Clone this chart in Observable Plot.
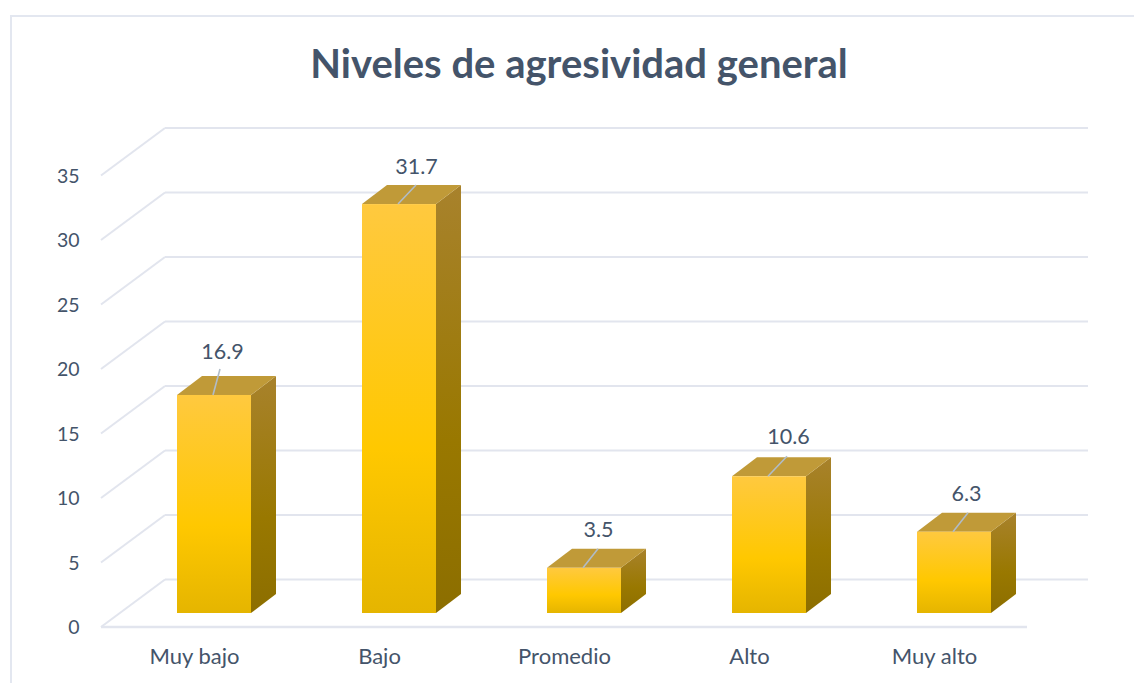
<!DOCTYPE html>
<html>
<head>
<meta charset="utf-8">
<script src="https://cdn.jsdelivr.net/npm/d3@7"></script>
<script src="https://cdn.jsdelivr.net/npm/@observablehq/plot@0.6"></script>
<style>
  html, body { margin: 0; padding: 0; background: #fff; width: 1134px; height: 683px; overflow: hidden; }
  #border { position: absolute; left: 10px; top: 15px; right: -4px; bottom: -4px; border: 2px solid #e3e7f0; }
  #title { position: absolute; left: 0; top: 39px; width: 1158px; text-align: center;
           font: bold 40px Lato, sans-serif; color: #44546a; line-height: 48px; }
  #chart { position: absolute; left: 0; top: 100px; }
  svg { overflow: visible; }
</style>
</head>
<body>
<div id="border"></div>
<div id="title">Niveles de agresividad general</div>
<div id="chart"></div>
<script>
const categories = ["Muy bajo", "Bajo", "Promedio", "Alto", "Muy alto"];
const values = [16.9, 31.7, 3.5, 10.6, 6.3];
const yTicks = [0, 5, 10, 15, 20, 25, 30, 35];
const rows = categories.map((category, i) => ({category, value: values[i]}));

// Layout of the fake 3D box (pixels)
const layout = {
  depth: [25, -19],              // bar depth
  front: [-64 - 12, 13.5],       // bar plane -> front of floor
  back:  [-12, -34],             // bar plane -> back wall
  labelNudge: [[8, -43], [17, -37], [14, -38], [19, -40], [12, -38]],
  leaderEnd:  [[7, -26], [18, -19], [15, -19], [19, -20], [15, -19]]
};
const [dX, dY] = layout.depth;
const bandOf = s => typeof s.bandwidth === "function" ? s.bandwidth() : s.bandwidth;

function defs() {
  const svg = d3.create("svg:defs");
  const grad = (id, stops) => {
    const g = svg.append("linearGradient").attr("id", id).attr("x1", 0).attr("y1", 0).attr("x2", 0).attr("y2", 1);
    stops.forEach(([o, c]) => g.append("stop").attr("offset", o).attr("stop-color", c));
  };
  grad("front", [[0, "#ffc93f"], [0.6, "#ffc800"], [1, "#e5b500"]]);
  grad("side",  [[0, "#a8822c"], [0.6, "#997800"], [1, "#8c6e00"]]);
  return svg.node();
}

// paths derived from the bars' scaled positions
const facePath = (points, fill) => function (index, scales) {
  const g = d3.create("svg:g");
  for (const i of index) {
    const x = scales.x(rows[i].category), bw = bandOf(scales.x), y1 = scales.y(0), y2 = scales.y(rows[i].value);
    g.append("path").attr("d", "M" + points(x, bw, y1, y2).join("L") + "Z").attr("fill", fill);
  }
  return g.node();
};
const sideFace = facePath((x, w, y1, y2) => [[x + w, y2], [x + w + dX, y2 + dY], [x + w + dX, y1 + dY], [x + w, y1]], "url(#side)");
const topFace  = facePath((x, w, y1, y2) => [[x, y2], [x + dX, y2 + dY], [x + w + dX, y2 + dY], [x + w, y2]], "#c09a38");

const leaders = function (index, scales) {
  const g = d3.create("svg:g").attr("stroke", "#b0bcc8").attr("stroke-width", 1.6);
  for (const i of index) {
    const x = scales.x(rows[i].category) + bandOf(scales.x) / 2 - 1, y = scales.y(rows[i].value);
    const [a, b] = layout.leaderEnd[i];
    g.append("line").attr("x1", x).attr("y1", y).attr("x2", x + a).attr("y2", y + b);
  }
  return g.node();
};
const slants = function (index, scales, channels, dims) {
  const g = d3.create("svg:g").attr("stroke", "#e2e5ee").attr("stroke-width", 2);
  for (const i of index) {
    const y = scales.y(yTicks[i]);
    g.append("line")
      .attr("x1", dims.marginLeft).attr("y1", y + layout.back[1] + 0.5)
      .attr("x2", dims.marginLeft - 64).attr("y2", y + layout.front[1] + 0.5);
  }
  return g.node();
};

const plot = Plot.plot({
  width: 1134,
  height: 583,
  marginLeft: 165,
  marginRight: 46,
  marginTop: 20,
  marginBottom: 43,
  style: {fontFamily: "Lato, sans-serif", fontSize: "20px", color: "#44546a", background: "transparent"},
  x: {type: "band", domain: categories, range: [121.5, 1046.5], paddingInner: 0.6, paddingOuter: 0.3, label: null, axis: null},
  y: {type: "linear", domain: [0, 35], range: [513, 61.5], label: null, axis: null},
  marks: [
    defs,
    // back wall grid
    Plot.ruleY(yTicks, {stroke: "#e2e5ee", strokeWidth: 2, dy: layout.back[1]}),
    // left wall grid
    Plot.ruleY(yTicks, {render: slants}),
    // floor front edge
    Plot.ruleY([0], {stroke: "#e2e5ee", strokeWidth: 2.5, dy: layout.front[1], dx: -64, insetRight: -3}),
    // axes
    Plot.axisY(yTicks, {anchor: "left", tickSize: 0, tickPadding: 86, label: null, dy: layout.front[1] + 1, fill: "#44546a", fontSize: 19.5}),
    Plot.axisX(categories, {anchor: "bottom", tickSize: 0, tickPadding: 8, label: null, dx: -20, fill: "#44546a", fontSize: 22}),
    // bars
    Plot.barY(rows, {x: "category", y: "value", render: sideFace}),
    Plot.barY(rows, {x: "category", y: "value", render: topFace}),
    Plot.barY(rows, {x: "category", y: "value", fill: "url(#front)"}),
    // labels
    Plot.text(rows, {x: "category", y: "value", render: leaders}),
    ...rows.map((r, i) => Plot.text([r], {
      x: "category", y: "value", text: d => d.value.toFixed(1),
      dx: layout.labelNudge[i][0], dy: layout.labelNudge[i][1], fill: "#44546a", fontSize: 21.5
    }))
  ]
});
document.getElementById("chart").append(plot);
</script>
</body>
</html>
